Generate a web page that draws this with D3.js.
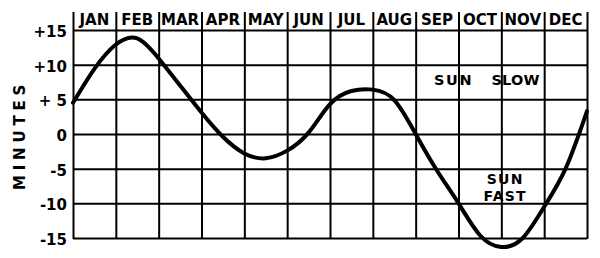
<!DOCTYPE html>
<html>
<head>
<meta charset="utf-8">
<script src="https://cdn.jsdelivr.net/npm/d3@7"></script>
<style>
  html, body { margin: 0; padding: 0; background: #fff; }
  svg { display: block; }
  text { font-family: "DejaVu Sans", sans-serif; font-weight: bold; fill: #000; }
</style>
</head>
<body>
<svg id="chart" width="600" height="258"></svg>
<script>
// ---- data ----
const monthLabels = ["JAN","FEB","MAR","APR","MAY","JUN","JUL","AUG","SEP","OCT","NOV","DEC"];
const yTickValues = [-15, -10, -5, 0, 5, 10, 15];
const yTickLabels = ["-15", "-10", "-5", "0", "+ 5", "+10", "+15"];
// position in months from Jan 1 (0) to Dec 31 (12), read every half month
const curveMonths = [0, 0.5, 1.0, 1.5, 2.0, 2.5, 3.0, 3.5, 4.0, 4.5, 5.0, 5.5, 6.0, 6.5, 7.0, 7.5, 8.0, 8.5, 9.0, 9.5, 10.0, 10.5, 11.0, 11.5, 12.0];
const curveMinutes = [4.5, 9.4, 12.9, 13.8, 10.9, 7.0, 3.1, -0.4, -2.8, -3.5, -2.4, 0.2, 4.3, 6.2, 6.4, 4.9, 0.0, -5.3, -10.0, -14.6, -16.3, -15.0, -10.5, -5.0, 3.3];
const yAxisTitle = "MINUTES";
const noteSlow = ["SUN", "SLOW"];
const noteFast = ["SUN", "FAST"];

// ---- layout ----
const plotLeft = 73, plotRight = 587, plotTop = 30, plotBottom = 238, headerTop = 12;
const svg = d3.select("#chart");

const x = d3.scaleLinear().domain([0, 12]).range([plotLeft, plotRight]);
const xBand = d3.scaleBand().domain(monthLabels).range([plotLeft, plotRight]);
const y = d3.scaleLinear().domain([-15, 15]).range([plotBottom, plotTop]);

const gridColor = "#000";

// horizontal grid + y labels
const yAxis = d3.axisLeft(y)
  .tickValues(yTickValues)
  .tickSize(-(plotRight - plotLeft))
  .tickPadding(6)
  .tickFormat(d => yTickLabels[yTickValues.indexOf(d)]);
const gy = svg.append("g").attr("transform", `translate(${plotLeft},0)`).call(yAxis);
gy.select(".domain").remove();
gy.selectAll(".tick line").attr("stroke", gridColor).attr("stroke-width", 2);
gy.selectAll(".tick text")
  .attr("font-size", 15)
  .attr("font-family", "DejaVu Sans")
  .attr("font-weight", "bold")
  .attr("fill", "#000")
  .attr("dy", null)
  .attr("y", 6.5);

// vertical grid lines (month boundaries)
const xAxis = d3.axisBottom(x)
  .tickValues(d3.range(0, 13))
  .tickSize(-(plotBottom + 1 - headerTop))
  .tickFormat("");
const gx = svg.append("g").attr("transform", `translate(0,${plotBottom + 1})`).call(xAxis);
gx.select(".domain").remove();
gx.selectAll(".tick line").attr("stroke", gridColor).attr("stroke-width", 2);

// month labels
const mAxis = d3.axisTop(xBand).tickSize(0).tickPadding(0);
const gm = svg.append("g").attr("transform", `translate(0,25)`).call(mAxis);
gm.select(".domain").remove();
gm.selectAll(".tick text")
  .attr("font-size", 15)
  .attr("font-family", "DejaVu Sans")
  .attr("font-weight", "bold")
  .attr("fill", "#000")
  .attr("dy", null)
  .attr("y", 0);

// curve
const pts = curveMonths.map((m, i) => [m, curveMinutes[i]]);
const line = d3.line()
  .x(d => x(d[0]))
  .y(d => y(d[1]))
  .curve(d3.curveNatural);
svg.append("path")
  .datum(pts)
  .attr("d", line)
  .attr("fill", "none")
  .attr("stroke", "#000")
  .attr("stroke-width", 4)
  .attr("stroke-linecap", "round");

// y axis title
svg.append("text")
  .attr("transform", `translate(25,${y(0) + 1}) rotate(-90)`)
  .attr("text-anchor", "middle")
  .attr("font-size", 15)
  .attr("letter-spacing", 4.8)
  .text(yAxisTitle);

// SUN SLOW
svg.append("text")
  .attr("x", x(8.43)).attr("y", y(7.0))
  .attr("font-size", 14.5)
  .attr("letter-spacing", 1.6)
  .text(noteSlow[0]);
svg.append("text")
  .attr("x", x(9.77)).attr("y", y(7.0))
  .attr("font-size", 14.5)
  .attr("letter-spacing", 0.2)
  .text(noteSlow[1]);

// SUN FAST
svg.append("text")
  .attr("x", x(10.09)).attr("y", 184)
  .attr("text-anchor", "middle")
  .attr("font-size", 14)
  .attr("letter-spacing", 1.2)
  .text(noteFast[0]);
svg.append("text")
  .attr("x", x(10.09)).attr("y", 200.5)
  .attr("text-anchor", "middle")
  .attr("font-size", 14)
  .attr("letter-spacing", 1.2)
  .text(noteFast[1]);
</script>
</body>
</html>
